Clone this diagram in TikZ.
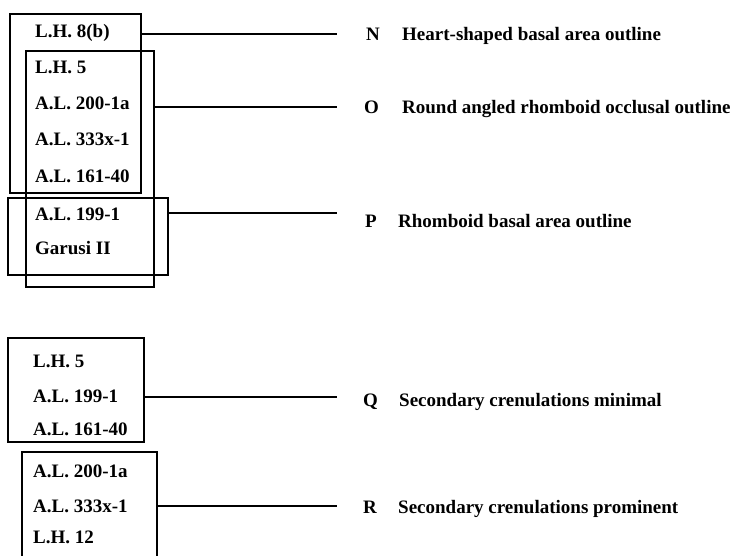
\documentclass[tikz,border=0pt]{standalone}
\usepackage{fontspec}
\setmainfont{Liberation Serif}
\usepackage{tikz}
\usetikzlibrary{
  positioning,
  calc,
}

\begin{document}
\begin{tikzpicture}[
  x=1pt, y=-1pt,
  font=\fontsize{19}{22}\selectfont\bfseries,
  group/.style={draw=black, line width=1.8pt, inner sep=0pt, anchor=north west},
  taxon/.style={anchor=base west, inner sep=0pt},
  trait/.style={anchor=base west, inner sep=0pt},
  link/.style={line width=1.8pt},
]
\useasboundingbox (0,0) rectangle (736,556);

%% upper set: outline characters
\node[group, minimum width=131pt, minimum height=179pt] (grpN) at (9,13) {};
\node[group, minimum width=128pt, minimum height=236pt] (grpO) at (25,50) {};
\node[group, minimum width=160pt, minimum height=77pt]  (grpP) at (7,197) {};

\node[taxon] (lh8b)  at (35,38)  {L.H. 8(b)};
\node[taxon] (lh5a)  at (35,74)  {L.H. 5};
\node[taxon] (al200a) at (35,110) {A.L. 200-1a};
\node[taxon] (al333a) at (35,146) {A.L. 333x-1};
\node[taxon] (al161a) at (35,183) {A.L. 161-40};
\node[taxon] (al199a) at (35,220) {A.L. 199-1};
\node[taxon] (garusi) at (35,254) {Garusi II};

%% lower set: crenulations
\node[group, minimum width=136pt, minimum height=104pt] (grpQ) at (7,337) {};
\node[group, minimum width=135pt, minimum height=120pt] (grpR) at (21,451) {};

\node[taxon] (lh5b)   at (33,367) {L.H. 5};
\node[taxon] (al199b) at (33,402) {A.L. 199-1};
\node[taxon] (al161b) at (33,435) {A.L. 161-40};
\node[taxon] (al200b) at (33,477) {A.L. 200-1a};
\node[taxon] (al333b) at (33,512) {A.L. 333x-1};
\node[taxon] (lh12)   at (33,543) {L.H. 12};

%% character labels
\node[trait] (letN) at (366,41)  {N};
\node[trait] (txtN) at (402,41)  {Heart-shaped basal area outline};
\node[trait] (letO) at (364,114) {O};
\node[trait] (txtO) at (402,114) {Round angled rhomboid occlusal outline};
\node[trait] (letP) at (365,227) {P};
\node[trait] (txtP) at (398,227) {Rhomboid basal area outline};
\node[trait] (letQ) at (363,406) {Q};
\node[trait] (txtQ) at (399,406) {Secondary crenulations minimal};
\node[trait] (letR) at (363,513) {R};
\node[trait] (txtR) at (398,513) {Secondary crenulations prominent};

\coordinate (endN) at (337,34);
\coordinate (endO) at (337,107);
\coordinate (endP) at (337,213);
\coordinate (endQ) at (337,397);
\coordinate (endR) at (337,506);

\draw[link] (grpN.east |- endN) -- (endN);
\draw[link] (grpO.east |- endO) -- (endO);
\draw[link] (grpP.east |- endP) -- (endP);
\draw[link] (grpQ.east |- endQ) -- (endQ);
\draw[link] (grpR.east |- endR) -- (endR);

\end{tikzpicture}
\end{document}
